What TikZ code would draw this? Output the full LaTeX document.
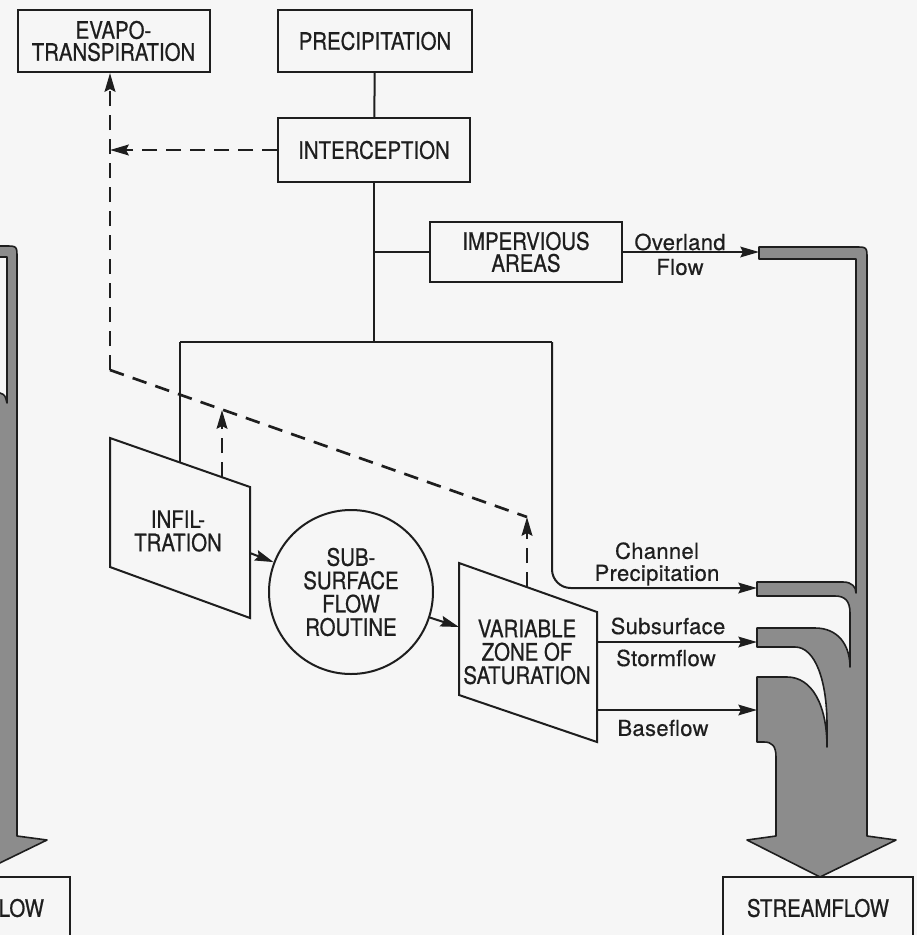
\documentclass[tikz,border=0pt]{standalone}
\usepackage{fontspec}
\setsansfont{TeX Gyre Heros}[FakeBold=0.5, LetterSpace=1.5]
\newfontfamily\narrowcaps{TeX Gyre Heros}[FakeStretch=0.85, FakeBold=0.7]
\usetikzlibrary{
    positioning,
    arrows.meta,
    calc
}
\definecolor{inkcolor}{RGB}{30, 30, 30}
\definecolor{papercolor}{RGB}{246, 246, 246}
\definecolor{streamcolor}{RGB}{140, 140, 140}

\begin{document}
\begin{tikzpicture}[
    x=0.75pt, y=-0.75pt,
    % Process boxes
    box/.style={
        rectangle,
        draw=inkcolor,
        line width=1.5pt,
        minimum width=144pt,
        minimum height=46.5pt,
        align=center,
        text=inkcolor,
        font=\narrowcaps\fontsize{18}{16.5}\selectfont
    },
    % Routine circle
    routine/.style={
        circle,
        draw=inkcolor,
        line width=1.5pt,
        minimum size=123pt,
        inner sep=0pt,
        align=center,
        text=inkcolor,
        font=\narrowcaps\fontsize{18}{17.5}\selectfont
    },
    % Text inside slanted boxes
    slanttext/.style={
        align=center,
        text=inkcolor,
        font=\narrowcaps\fontsize{18}{17.5}\selectfont
    },
    % Slanted box outline
    slantbox/.style={
        draw=inkcolor,
        line width=1.5pt
    },
    % Flow labels
    flowlabel/.style={
        align=center,
        text=inkcolor,
        inner sep=1pt,
        font=\sffamily\fontsize{16.5}{16.5}\selectfont
    },
    % Plain connecting line
    link/.style={
        draw=inkcolor,
        line width=1.5pt
    },
    % Arrow style
    flow/.style={
        link,
        -{Stealth[length=14pt, width=8pt, inset=2pt]}
    },
    % Dashed evaporation paths
    dashline/.style={
        draw=inkcolor,
        line width=2pt,
        dash pattern=on 11pt off 7pt
    },
    dashflow/.style={
        dashline,
        -{Stealth[length=14pt, width=8pt, inset=2pt]}
    },
    % Grey stream channel
    stream/.style={
        draw=inkcolor,
        fill=streamcolor,
        line width=1.2pt,
        line join=round
    }
]

\useasboundingbox (0,0) rectangle (917,935);
\clip (0,0) rectangle (917,935);
\fill[papercolor] (0,0) rectangle (917,935);

% ============================================
% BOXES
% ============================================

\node[box] (evap) at (113.5, 41) {EVAPO-\\TRANSPIRATION};
\node[box, minimum width=145.5pt] (precip) at (375, 41) {PRECIPITATION};
\node[box, minimum height=48pt] (intercept) at (374, 150) {INTERCEPTION};
\node[box, minimum height=45pt] (imperv) at (526, 252) {IMPERVIOUS\\AREAS};

% Infiltration (slanted)
\draw[slantbox] (110,438) -- (250,487) -- (250,618) -- (110,567) -- cycle;
\node[slanttext] (infil) at (178, 531) {INFIL-\\TRATION};

% Subsurface routine
\node[routine] (sub) at (351, 592) {SUB-\\SURFACE\\FLOW\\ROUTINE};

% Variable zone (slanted)
\draw[slantbox] (459,563) -- (597,612) -- (597,742) -- (459,695) -- cycle;
\node[slanttext] (varzone) at (527, 652) {VARIABLE\\ZONE OF\\SATURATION};

% Outflow boxes
\node[box, minimum width=142.5pt] (streamflow) at (818, 908) {STREAMFLOW};
\node[box, minimum width=105pt] (leftbox) at (0, 908) {};
\node[box, draw=none, anchor=east, inner sep=0pt, minimum width=0pt] (lefttext) at (45, 908) {LOW};

% ============================================
% CONNECTION POINTS
% ============================================

\coordinate (etcorner) at (110, 370);
\coordinate (satcorner) at (527, 517);
\coordinate (infiltop) at (222, 477);
\coordinate (infilup) at (222, 410);
\coordinate (sattop) at (527, 587);
\coordinate (split) at (374, 342);
\coordinate (infilin) at (180, 342);
\coordinate (infilentry) at (180, 462);
\coordinate (chanturn) at (552, 342);
\coordinate (chanin) at (757, 588);
\coordinate (overin) at (759, 252);
\coordinate (infilright) at (250, 553);
\coordinate (satleft) at (459, 627);
\coordinate (satright1) at (597, 642);
\coordinate (satright2) at (597, 710);
\coordinate (stormin) at (757, 642);
\coordinate (basein) at (757, 710);

% ============================================
% WATER PATHS
% ============================================

\draw[link] (precip) -- (intercept);
\draw[link] (intercept.south) -- (split);
\draw[link] (intercept.south |- imperv.west) -- (imperv.west);
\draw[link] (infilin) -- (chanturn);
\draw[link] (infilin) -- (infilentry);
\draw[flow, rounded corners=14pt] (chanturn) -- (chanturn |- chanin) -- (chanin);
\draw[flow] (imperv.east |- overin) -- (overin);
\draw[flow] (infilright) -- (sub);
\draw[flow] (sub) -- (satleft);
\draw[flow] (satright1) -- (stormin);
\draw[flow] (satright2) -- (basein);

% Evapotranspiration losses
\draw[dashflow] (intercept.west) -- (intercept.west -| etcorner);
\draw[dashflow] (etcorner) -- (etcorner |- evap.south);
\draw[dashline] (etcorner) -- (satcorner);
\draw[dashflow] (infiltop) -- (infilup);
\draw[dashflow] (sattop) -- (satcorner);

% ============================================
% LABELS
% ============================================

\node[flowlabel] (overlabel) at (680, 242) {Overland};
\node[flowlabel] (flowlabel) at (680, 267) {Flow};
\node[flowlabel] (chanlabel) at (657, 564) {Channel\\Precipitation};
\node[flowlabel] (subsurf) at (668, 626) {Subsurface};
\node[flowlabel] (stormlabel) at (666, 658) {Stormflow};
\node[flowlabel] (baselabel) at (663, 728) {Baseflow};

% ============================================
% STREAM CHANNEL
% ============================================

\draw[stream] (759,247) -- (855,247) .. controls (867,247) .. (867,259)
    -- (867,836) -- (896,840) -- (820,877) -- (747,840) -- (776,836)
    -- (776,757) .. controls (776,746) and (772,742) .. (764,742) -- (757,742)
    -- (757,677) -- (787,677) .. controls (812,677) and (827,705) .. (827,747)
    -- (827,725) .. controls (827,680) and (815,647) .. (795,647) -- (757,647)
    -- (757,628) -- (815,628) .. controls (838,628) and (850,645) .. (850,667)
    -- (850,613) .. controls (850,601) and (845,596) .. (835,596) -- (757,596)
    -- (757,582) -- (843,582) .. controls (852,582) and (856,587) .. (856,593)
    -- (856,259) -- (759,259) -- cycle;

% Neighbouring channel (cut by the frame)
\draw[stream] (-20,246) -- (5,246) .. controls (17,246) .. (17,258)
    -- (17,836) -- (47,840) -- (-29,877) -- (-40,877) -- (-40,393)
    -- (0,393) .. controls (5,395) .. (7,403) -- (7,257) -- (-20,257) -- cycle;

\end{tikzpicture}
\end{document}
